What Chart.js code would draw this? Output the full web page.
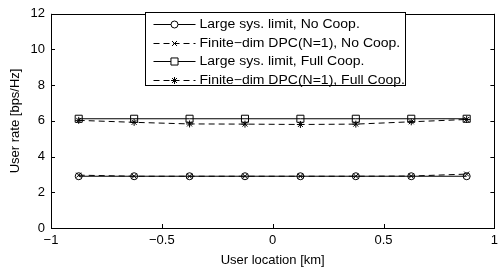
<!DOCTYPE html>
<html>
<head>
<meta charset="utf-8">
<script src="https://cdn.jsdelivr.net/npm/chart.js@4.4.1/dist/chart.umd.min.js"></script>
<style>
  html, body { margin: 0; padding: 0; background: #fff; }
  #wrap { width: 503px; height: 268px; }
</style>
</head>
<body>
<div id="wrap"><canvas id="rateChart" width="503" height="268"></canvas></div>
<script>
// user locations [km] and rates [bps/Hz]
const locations = [-0.875, -0.625, -0.375, -0.125, 0.125, 0.375, 0.625, 0.875];
const largeNoCoop = [2.9, 2.9, 2.9, 2.9, 2.9, 2.9, 2.9, 2.9];
const finiteNoCoop = [2.96, 2.9, 2.9, 2.9, 2.9, 2.9, 2.91, 3.02];
const largeFullCoop = [6.12, 6.12, 6.12, 6.12, 6.12, 6.12, 6.12, 6.12];
const finiteFullCoop = [6.03, 5.92, 5.83, 5.82, 5.8, 5.82, 5.95, 6.08];

const seriesLabels = [
    'Large sys. limit, No Coop.',
    'Finite\u2212dim DPC(N=1), No Coop.',
    'Large sys. limit, Full Coop.',
    'Finite\u2212dim DPC(N=1), Full Coop.'
];
const xTicks = [-1, -0.5, 0, 0.5, 1];
const yTicks = [0, 2, 4, 6, 8, 10, 12];

const FONT = 'Liberation Sans, Arial, Helvetica, sans-serif';

const toPoints = vals => vals.map((v, i) => ({ x: locations[i], y: v }));
const fmt = v => (v < 0 ? '\u2212' + Math.abs(v) : String(v));

function series(label, vals, pointStyle, dashed, radius) {
    return {
        label: label,
        data: toPoints(vals),
        borderColor: '#000',
        backgroundColor: 'rgba(0,0,0,0)',
        borderWidth: 1,
        borderDash: dashed ? [6, 4] : [],
        pointStyle: pointStyle,
        pointRadius: radius,
        pointBorderColor: '#000',
        pointBackgroundColor: 'rgba(0,0,0,0)',
        pointBorderWidth: 1,
        tension: 0
    };
}

// MATLAB-style box, inward ticks and a boxed legend
const matlabFrame = {
    id: 'matlabFrame',
    afterDraw(chart) {
        const { ctx, chartArea: a, scales } = chart;
        ctx.save();
        ctx.strokeStyle = '#000';
        ctx.lineWidth = 1;
        ctx.setLineDash([]);
        ctx.beginPath();
        xTicks.forEach(t => {
            const x = Math.round(scales.x.getPixelForValue(t)) + 0.5;
            ctx.moveTo(x, a.bottom); ctx.lineTo(x, a.bottom - 4);
            ctx.moveTo(x, a.top); ctx.lineTo(x, a.top + 4);
        });
        yTicks.forEach(t => {
            const y = Math.round(scales.y.getPixelForValue(t)) + 0.5;
            ctx.moveTo(a.left, y); ctx.lineTo(a.left + 4, y);
            ctx.moveTo(a.right, y); ctx.lineTo(a.right - 4, y);
        });
        ctx.stroke();
        ctx.strokeRect(Math.round(a.left) + 0.5, Math.round(a.top) + 0.5,
            Math.round(a.right - a.left), Math.round(a.bottom - a.top));

        // legend
        const lx = 145.5, ly = 12.5, lw = 260, lh = 73, rowH = 18.7;
        ctx.fillStyle = '#fff';
        ctx.fillRect(lx, ly, lw, lh);
        ctx.strokeRect(lx, ly, lw, lh);
        ctx.textBaseline = 'middle';
        chart.data.datasets.forEach((ds, i) => {
            const y = Math.round(ly + 11.5 + i * rowH) + 0.5;
            ctx.strokeStyle = '#000';
            ctx.setLineDash(ds.borderDash);
            ctx.beginPath();
            ctx.moveTo(lx + 8, y); ctx.lineTo(lx + 50, y);
            ctx.stroke();
            ctx.setLineDash([]);
            ctx.fillStyle = '#fff';
            Chart.helpers.drawPoint(ctx, {
                pointStyle: ds.pointStyle, radius: ds.pointRadius, rotation: 0, borderWidth: 1
            }, lx + 29, y);
            ctx.fillStyle = '#000';
            ctx.save();
            ctx.translate(lx + 54, y);
            ctx.scale(1.12, 1);
            ctx.font = '12.5px ' + FONT;
            ctx.fillText(ds.label, 0, 0);
            ctx.restore();
        });
        ctx.restore();
    }
};

new Chart(document.getElementById('rateChart'), {
    type: 'line',
    data: {
        datasets: [
            series(seriesLabels[0], largeNoCoop, 'circle', false, 3.5),
            series(seriesLabels[1], finiteNoCoop, 'crossRot', true, 3.5),
            series(seriesLabels[2], largeFullCoop, 'rect', false, 5),
            series(seriesLabels[3], finiteFullCoop, 'star', true, 3.5)
        ]
    },
    options: {
        responsive: false,
        animation: false,
        devicePixelRatio: 1,
        layout: { padding: { top: 6, right: 6, left: 0, bottom: 0 } },
        plugins: { legend: { display: false }, tooltip: { enabled: false } },
        scales: {
            x: {
                type: 'linear',
                min: -1, max: 1,
                afterFit: s => { s.height = 40; },
                afterBuildTicks: s => { s.ticks = xTicks.map(v => ({ value: v })); },
                grid: { display: false, drawTicks: false },
                border: { display: false },
                ticks: {
                    color: '#000', padding: 5,
                    font: { family: FONT, size: 13 },
                    maxRotation: 0,
                    callback: v => fmt(v)
                },
                title: {
                    display: true, text: 'User location [km]', color: '#000',
                    font: { family: FONT, size: 13 }, padding: { top: 4, bottom: 0 }
                }
            },
            y: {
                min: 0, max: 12,
                afterFit: s => { s.width = 51; },
                afterBuildTicks: s => { s.ticks = yTicks.map(v => ({ value: v })); },
                grid: { display: false, drawTicks: false },
                border: { display: false },
                ticks: {
                    color: '#000', padding: 6,
                    font: { family: FONT, size: 13 },
                    callback: v => fmt(v)
                },
                title: {
                    display: true, text: 'User rate [bps/Hz]', color: '#000',
                    font: { family: FONT, size: 13 }, padding: { top: 8, bottom: 0 }
                }
            }
        }
    },
    plugins: [matlabFrame]
});
</script>
</body>
</html>
